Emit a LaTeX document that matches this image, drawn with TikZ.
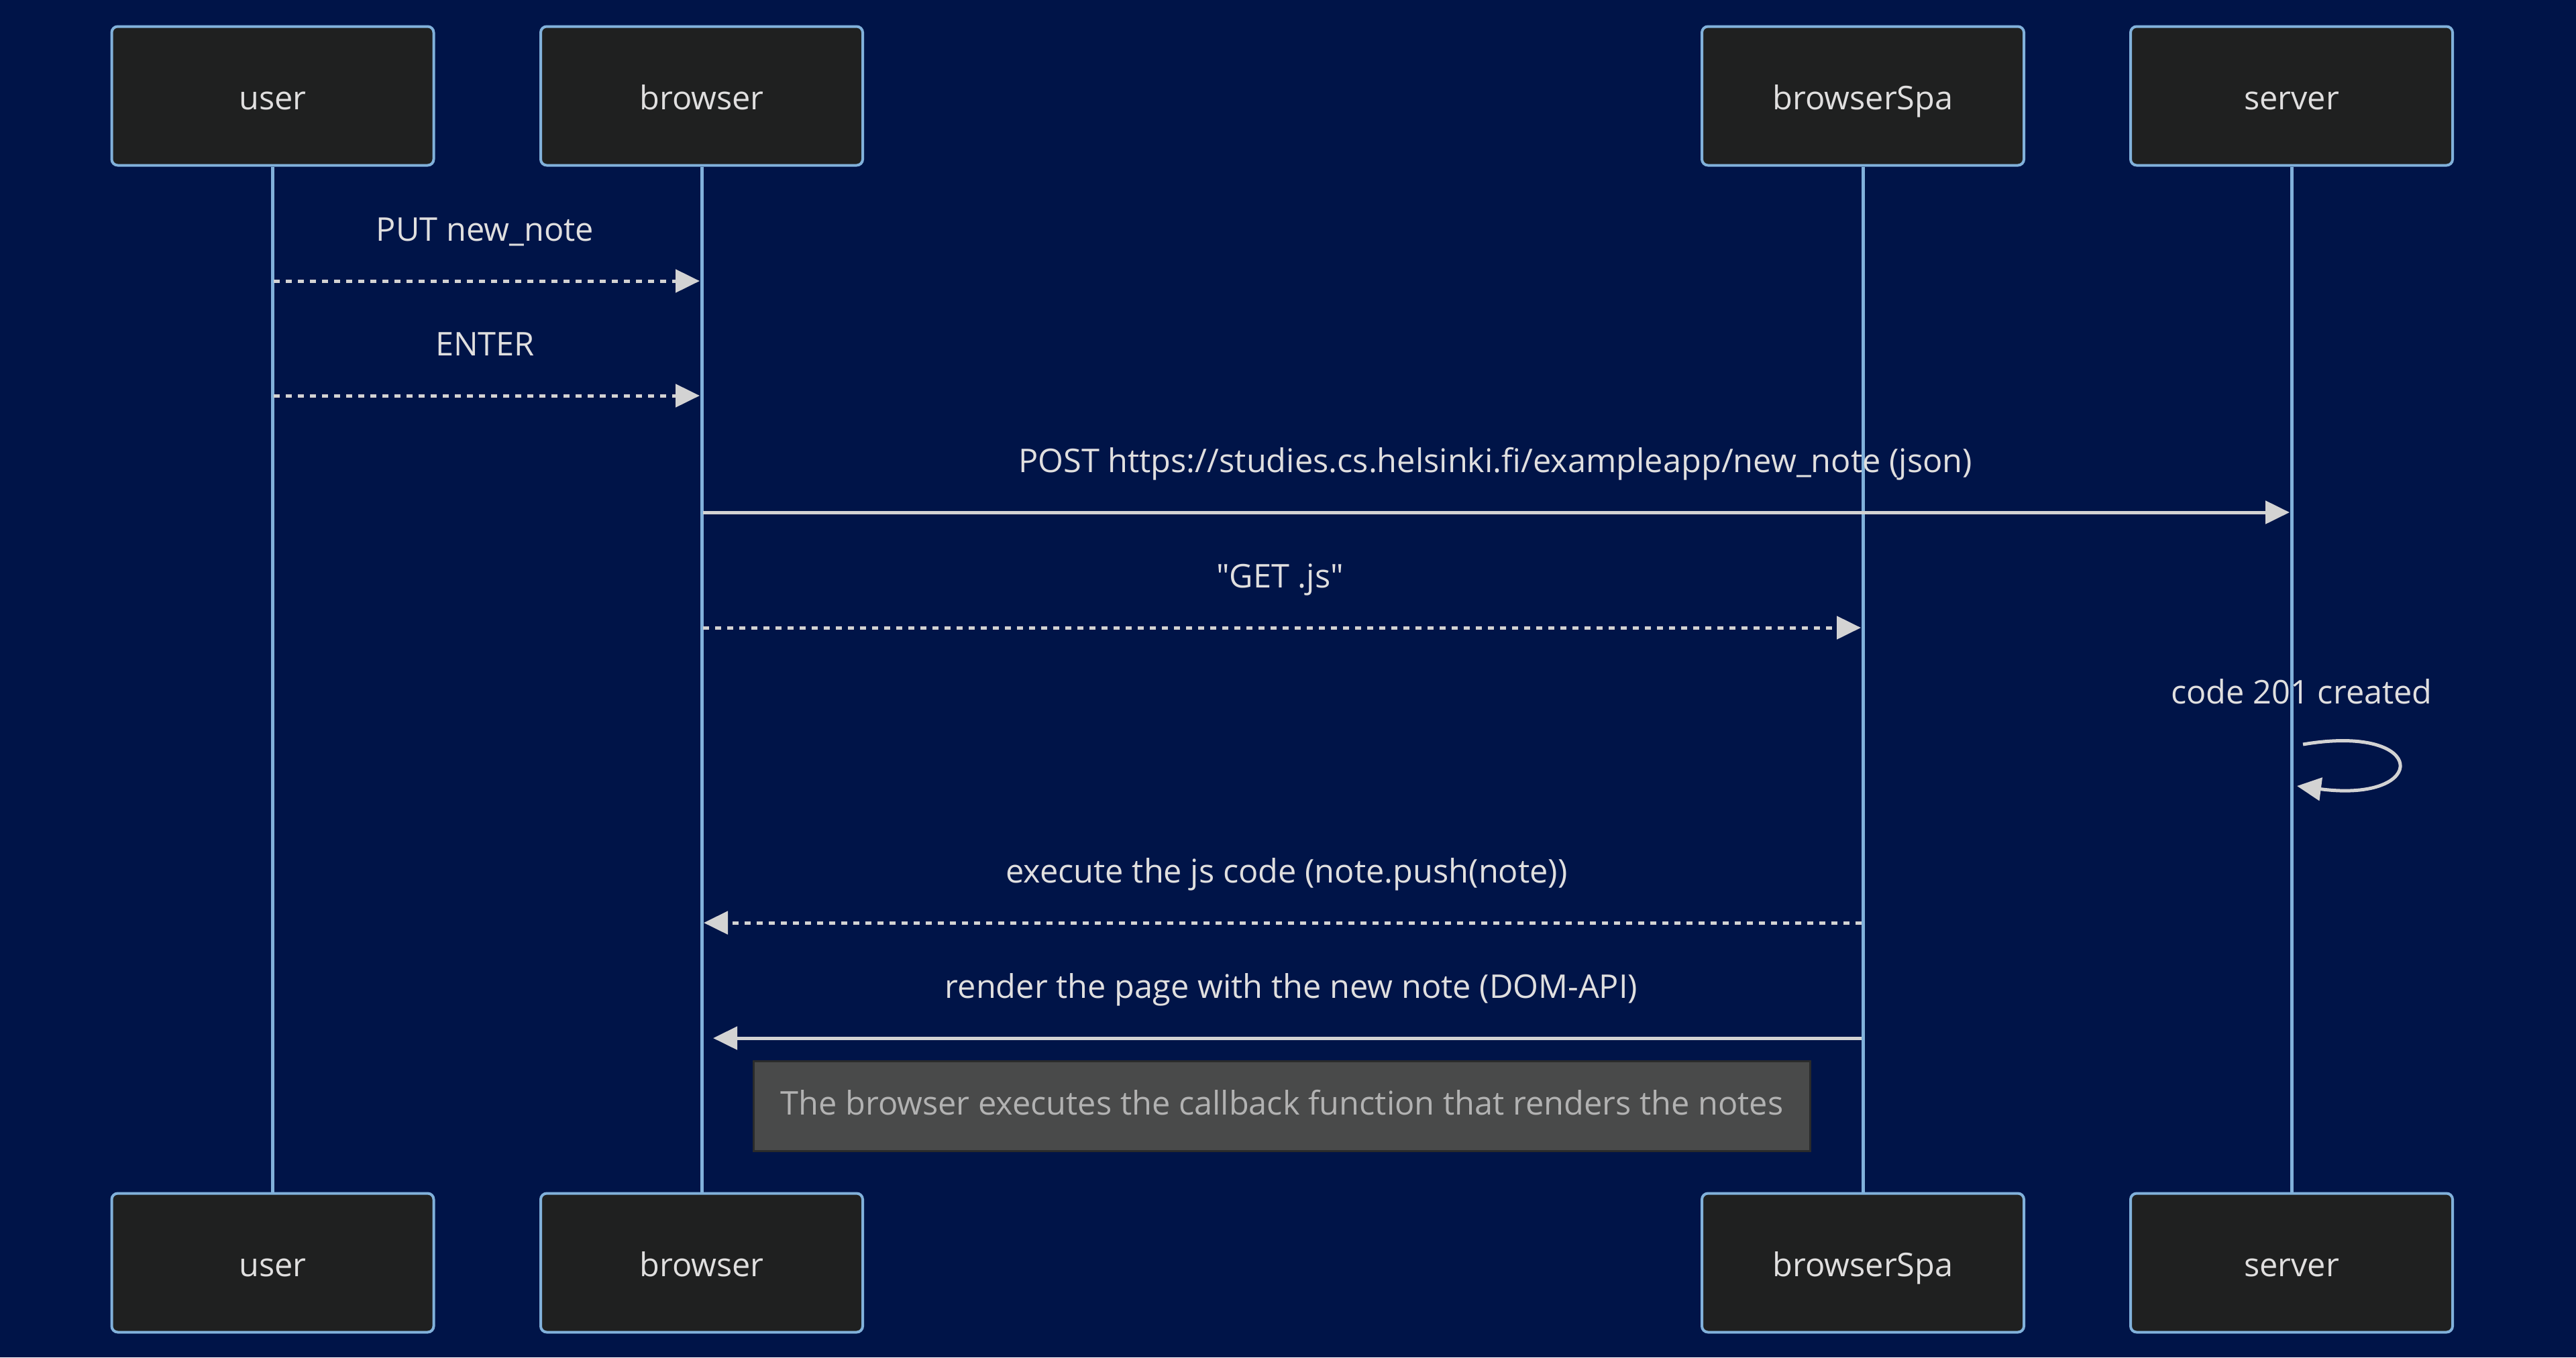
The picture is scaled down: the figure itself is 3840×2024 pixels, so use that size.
\documentclass[tikz,border=0pt]{standalone}
\usepackage{fontspec}
\setmainfont{Open Sans}
\newfontfamily\plainfont{Open Sans}
\usetikzlibrary{arrows.meta}
\definecolor{bgc}{RGB}{0,20,72}
\definecolor{actfill}{RGB}{31,32,32}
\definecolor{actline}{RGB}{129,177,219}
\definecolor{sig}{RGB}{211,211,211}
\definecolor{txt}{RGB}{224,223,223}
\definecolor{notefill}{RGB}{73,74,74}
\definecolor{noteline}{RGB}{42,43,43}
\definecolor{notetxt}{RGB}{178,178,178}
\begin{document}
\begin{tikzpicture}[x=1pt,y=-1pt,
  actor/.style={draw=actline,line width=4pt,fill=actfill,rounded corners=9pt,
    minimum width=480pt,minimum height=207pt,inner sep=0pt,text=txt,
    text height=48pt,text depth=8pt,
    font=\fontsize{48.7}{58}\selectfont},
  life/.style={draw=actline,line width=5pt},
  msg/.style={draw=sig,line width=5pt,-{Triangle[length=36pt,width=34pt]}},
  dmsg/.style={msg,dash pattern=on 9pt off 9pt},
  lbl/.style={text=txt,font=\fontsize{48.7}{58}\selectfont,inner sep=0pt,anchor=base},
  notebox/.style={draw=noteline,line width=3pt,fill=notefill,text=notetxt,
    text height=34pt,text depth=8pt,
    font=\fontsize{48.7}{58}\selectfont,minimum width=1575pt,minimum height=134pt,inner sep=0pt}]
\fill[bgc] (0,0) rectangle (3840,2024);
\useasboundingbox (0,0) rectangle (3840,2024);
% actors
\node[actor] (uT) at (406.5,143) {user};
\node[actor] (bT) at (1046,143) {browser};
\node[actor] (sT) at (2777,143) {browserSpa};
\node[actor] (vT) at (3416,143) {server};
\node[actor] (uB) at (406.5,1883) {user};
\node[actor] (bB) at (1046,1883) {browser};
\node[actor] (sB) at (2777,1883) {browserSpa};
\node[actor] (vB) at (3416,1883) {server};
% lifelines
\draw[life] (uT.south) -- (uB.north);
\draw[life] (bT.south) -- (bB.north);
\draw[life] (sT.south) -- (sB.north);
\draw[life] (vT.south) -- (vB.north);
% message endpoints
\coordinate (m1a) at (408,419);  \coordinate (m1b) at (1043,419);
\coordinate (m2a) at (408,590);  \coordinate (m2b) at (1043,590);
\coordinate (m3a) at (1048,764); \coordinate (m3b) at (3413,764);
\coordinate (m4a) at (1048,936); \coordinate (m4b) at (2774,936);
\coordinate (m6a) at (2775,1376); \coordinate (m6b) at (1049,1376);
\coordinate (m7a) at (2775,1548); \coordinate (m7b) at (1063,1548);
\coordinate (l1) at (3433,1110); \coordinate (l2) at (3424,1172);
% messages
\node[lbl] (t1) at (723,359) {PUT new\_note};
\draw[dmsg] (m1a) -- (m1b);
\node[lbl] (t2) at (723,530) {ENTER};
\draw[dmsg] (m2a) -- (m2b);
\node[lbl] (t3) at (2229,704) {POST https://studies.cs.helsinki.fi/exampleapp/new\_note (json)};
\draw[msg] (m3a) -- (m3b);
\node[lbl] (t4) at (1908,876) {\plainfont "GET .js"};
\draw[dmsg] (m4a) -- (m4b);
\node[lbl] (t5) at (3431,1049) {code 201 created};
\draw[msg] (l1) .. controls (3622,1078) and (3622,1198) .. (l2);
\node[lbl] (t6) at (1918,1316) {execute the js code (note.push(note))};
\draw[dmsg] (m6a) -- (m6b);
\node[lbl] (t7) at (1925,1488) {render the page with the new note (DOM-API)};
\draw[msg] (m7a) -- (m7b);
\node[notebox] (n1) at (1911,1649) {The browser executes the callback function that renders the notes};
\end{tikzpicture}
\end{document}
